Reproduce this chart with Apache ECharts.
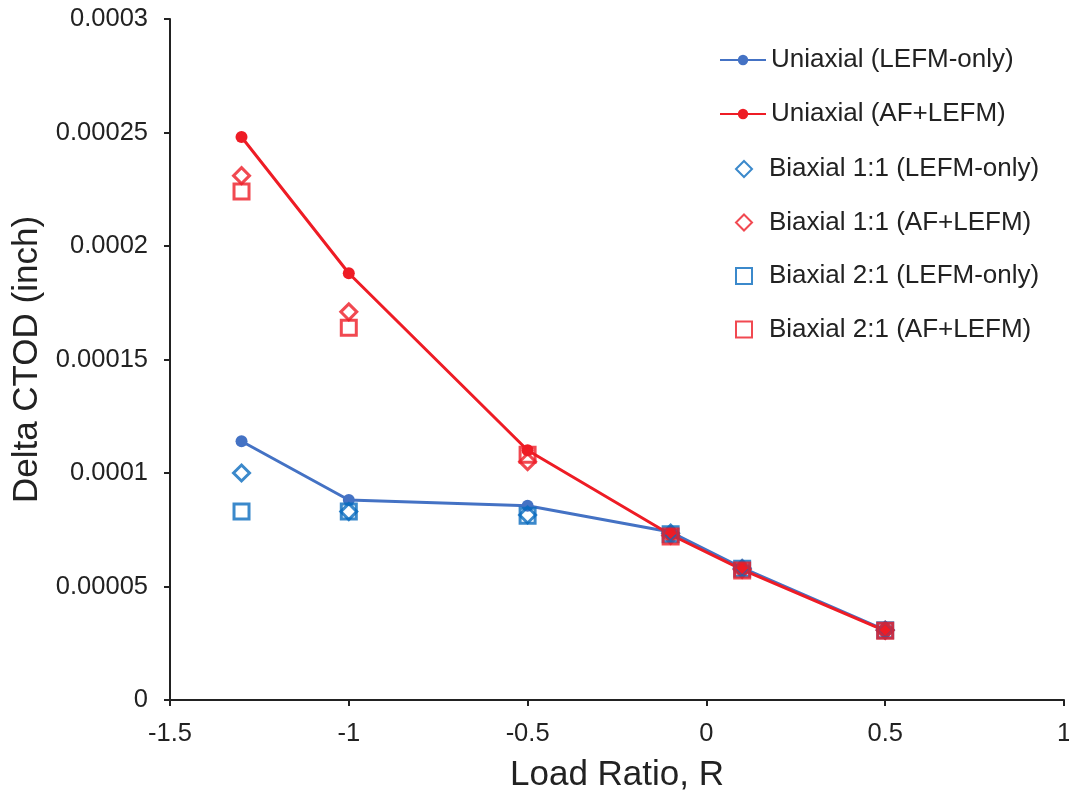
<!DOCTYPE html>
<html>
<head>
<meta charset="utf-8">
<script src="https://cdn.jsdelivr.net/npm/echarts@6/dist/echarts.min.js"></script>
<style>
  html, body { margin: 0; padding: 0; background: #fff; }
  #chart { width: 1069px; height: 790px; }
</style>
</head>
<body>
<div id="chart"></div>
<script>
// Load ratio R for each computed case
const loadRatio = [-1.3, -1, -0.5, -0.1, 0.1, 0.5];

// Delta CTOD (inch) per loading case
const uniLefm    = [0.000114, 0.0000881, 0.0000856, 0.0000740, 0.0000582, 0.0000308];
const uniAfLefm  = [0.000248, 0.000188, 0.000110, 0.0000728, 0.0000574, 0.0000305];
const bi11Lefm   = [0.000100, 0.0000830, 0.0000815, 0.0000735, 0.0000580, 0.0000308];
const bi11AfLefm = [0.000231, 0.000171, 0.000105, 0.0000725, 0.0000575, 0.0000307];
const bi21Lefm   = [0.0000830, 0.0000830, 0.0000812, 0.0000730, 0.0000578, 0.0000307];
const bi21AfLefm = [0.000224, 0.000164, 0.000108, 0.0000720, 0.0000570, 0.0000305];

const seriesNames = [
  'Uniaxial (LEFM-only)',
  'Uniaxial (AF+LEFM)',
  'Biaxial 1:1 (LEFM-only)',
  'Biaxial 1:1 (AF+LEFM)',
  'Biaxial 2:1 (LEFM-only)',
  'Biaxial 2:1 (AF+LEFM)'
];

const BLUE_LINE = '#4472C4';
const BLUE = '#0A6CBE';
const RED = '#EE1C25';
const FONT = '"Liberation Sans", Arial, sans-serif';
const INK = '#222';

function pairs(ys) { return loadRatio.map((x, i) => [x, ys[i]]); }

function lineSeries(name, ys, color) {
  return {
    name, type: 'line', data: pairs(ys),
    symbol: 'circle', symbolSize: 12,
    lineStyle: { color, width: 3 },
    itemStyle: { color },
    z: 3
  };
}
function markerSeries(name, ys, color, symbol, size) {
  return {
    name, type: 'scatter', data: pairs(ys),
    symbol, symbolSize: size,
    itemStyle: { color: 'rgba(255,255,255,0)', borderColor: color, borderWidth: 3 },
    z: 4
  };
}

const legendText = { fontFamily: FONT, fontSize: 26, color: INK };

const chart = echarts.init(document.getElementById('chart'));
chart.setOption({
  animation: false,
  backgroundColor: '#fff',
  grid: { left: 170, right: 5, top: 19, bottom: 90, containLabel: false, outerBoundsMode: 'none' },
  legend: [
    {
      // line series: wide icon with centred marker
      orient: 'vertical',
      left: 714,
      top: 42,
      itemWidth: 46,
      itemHeight: 13,
      itemGap: 28,
      textStyle: legendText,
      data: seriesNames.slice(0, 2)
    },
    {
      // marker-only series: compact icons
      orient: 'vertical',
      left: 730,
      top: 151,
      itemWidth: 16,
      itemHeight: 16,
      itemGap: 27.5,
      textStyle: Object.assign({ padding: [0, 0, 0, 12] }, legendText),
      data: seriesNames.slice(2)
    }
  ],
  xAxis: {
    type: 'value',
    min: -1.5, max: 1, interval: 0.5,
    name: 'Load Ratio, R',
    nameLocation: 'middle',
    nameGap: 58,
    nameTextStyle: { fontFamily: FONT, fontSize: 35, color: INK },
    axisLine: { onZero: false, lineStyle: { color: INK, width: 2 } },
    axisTick: { show: true, inside: false, length: 6, lineStyle: { color: INK, width: 2 } },
    axisLabel: { fontFamily: FONT, fontSize: 25.5, color: INK, margin: 21 },
    splitLine: { show: false }
  },
  yAxis: {
    type: 'value',
    min: 0, max: 0.0003, interval: 0.00005,
    name: 'Delta CTOD (inch)',
    nameLocation: 'middle',
    nameGap: 113,
    nameRotate: 90,
    nameTextStyle: { fontFamily: FONT, fontSize: 35, color: INK },
    axisLine: { show: true, onZero: false, lineStyle: { color: INK, width: 2 } },
    axisTick: { show: true, inside: false, length: 6, lineStyle: { color: INK, width: 2 } },
    axisLabel: {
      fontFamily: FONT, fontSize: 25.5, color: INK, margin: 22,
      formatter: v => v === 0 ? '0' : v.toFixed(5).replace(/0+$/, '')
    },
    splitLine: { show: false }
  },
  series: [
    lineSeries(seriesNames[0], uniLefm, BLUE_LINE),
    lineSeries(seriesNames[1], uniAfLefm, RED),
    markerSeries(seriesNames[2], bi11Lefm, BLUE, 'diamond', 16),
    markerSeries(seriesNames[3], bi11AfLefm, RED, 'diamond', 16),
    markerSeries(seriesNames[4], bi21Lefm, BLUE, 'rect', 15),
    markerSeries(seriesNames[5], bi21AfLefm, RED, 'rect', 15)
  ]
});
</script>
</body>
</html>
